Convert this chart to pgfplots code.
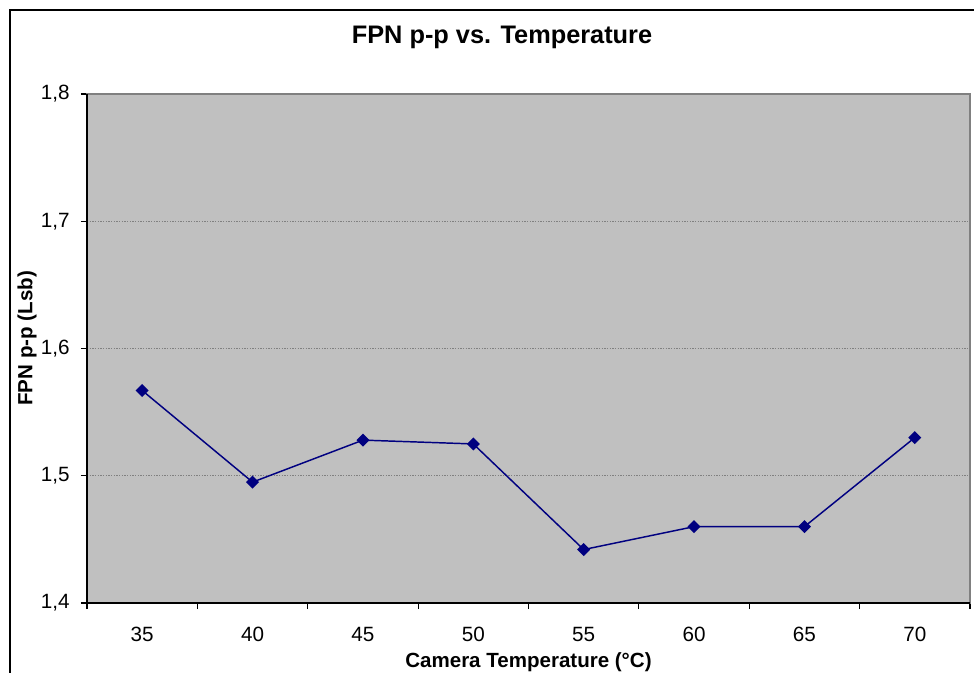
\documentclass[border=0pt]{standalone}
\usepackage{fontspec}
\setmainfont{Liberation Sans}
\usepackage{pgfplots}
\pgfplotsset{compat=1.18}
\definecolor{plotbg}{HTML}{C0C0C0}
\definecolor{navyc}{HTML}{000080}
\definecolor{gridc}{HTML}{808080}
\begin{document}
\begin{tikzpicture}[x=0.75pt,y=0.75pt]
\useasboundingbox (0,0) rectangle (974,672);
\begin{scope}
\clip (0,0) rectangle (974,672);
\draw[black, line width=1.5pt] (10,-20) -- (10,662) -- (1000,662);
\end{scope}
\begin{axis}[
  at={(65.25pt,51.75pt)}, anchor=south west,
  scale only axis, width=662.25pt, height=381.75pt,
  xmin=-0.5, xmax=7.5, ymin=1.4, ymax=1.8,
  axis background/.style={fill=plotbg},
  axis line style={gridc, line width=0.8pt},
  xtick={0,1,2,3,4,5,6,7},
  xticklabels={35,40,45,50,55,60,65,70},
  minor xtick={-0.5,0.5,1.5,2.5,3.5,4.5,5.5,6.5,7.5},
  major x tick style={draw=none},
  minor tick length=4.5pt,
  major tick length=4.5pt,
  tick align=outside,
  tick pos=left,
  tick style={black, line width=0.8pt},
  ytick={1.4,1.5,1.6,1.7,1.8},
  ymajorgrids,
  major grid style={gridc, line width=0.75pt, dash pattern=on 1pt off 1pt},
  /pgf/number format/assume math mode=true,
  /pgf/number format/.cd, use comma, fixed, fixed zerofill, precision=1,
  /pgfplots/.cd,
  ticklabel style={font=\fontsize{15.5}{18}\selectfont},
  xticklabel style={yshift=-10pt},
  yticklabel style={xshift=-5pt},
  title={\bfseries FPN p-p vs. Temperature},
  title style={font=\fontsize{19}{22}\selectfont, at={(axis description cs:0.470,1.095)}, anchor=center},
  xlabel={\bfseries Camera Temperature (°C)},
  xlabel style={font=\fontsize{15.4}{18}\selectfont, at={(axis description cs:0.5,-0.116)}, anchor=center},
  ylabel={\bfseries FPN p-p (Lsb)},
  ylabel style={font=\fontsize{15.4}{18}\selectfont, at={(axis description cs:-0.068,0.52)}, anchor=center, rotate=0},
  clip=false,
]
\addplot[navyc, line width=1.1pt, mark=square*, mark size=2.9pt, mark options={rotate=45, fill=navyc, draw=navyc, solid}]
coordinates {(0,1.567) (1,1.495) (2,1.528) (3,1.525) (4,1.442) (5,1.460) (6,1.460) (7,1.530)};
\draw[black, line width=1.1pt] (rel axis cs:0,1) -- (rel axis cs:0,0) -- (rel axis cs:1,0);
\end{axis}
\end{tikzpicture}
\end{document}
